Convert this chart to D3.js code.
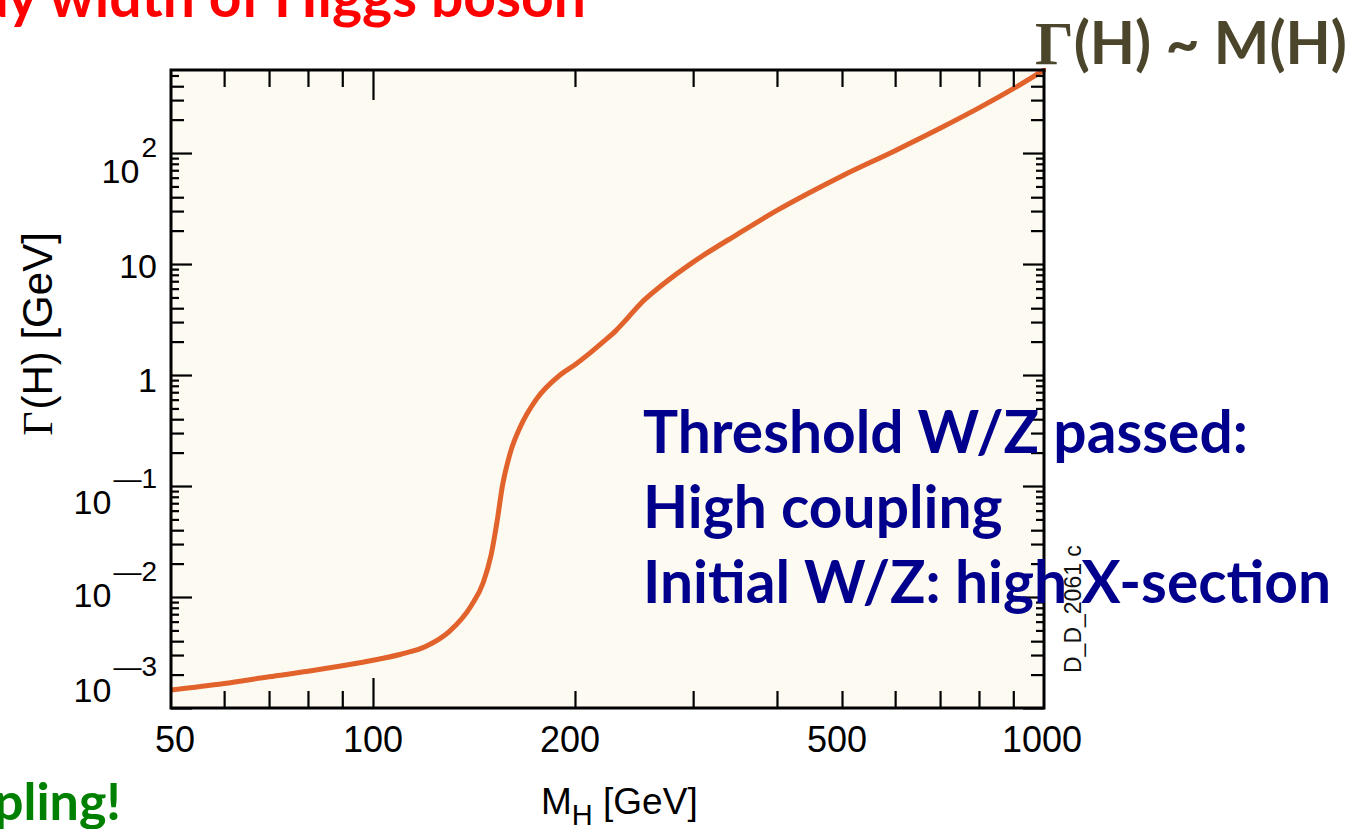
<!DOCTYPE html>
<html>
<head>
<meta charset="utf-8">
<script src="https://cdn.jsdelivr.net/npm/d3@7"></script>
<style>
  html, body { margin: 0; padding: 0; background: #ffffff; }
  svg { display: block; }
</style>
</head>
<body>
<svg id="chart" width="1360" height="829"></svg>
<script>
// Total decay width of the Standard Model Higgs boson versus its mass
const massGeV = [50, 60, 70, 80, 90, 100, 110, 120, 130, 140, 146, 150, 153, 156, 160,
                 166, 175, 190, 200, 210, 220, 230, 240, 250, 270, 300, 350, 400, 450,
                 500, 600, 700, 800, 900, 1000];
const widthGeV = [0.00145, 0.00166, 0.00191, 0.00214, 0.0024, 0.00269, 0.00305, 0.0036,
                  0.0049, 0.0083, 0.0135, 0.024, 0.047, 0.102, 0.195, 0.347, 0.60, 1.0,
                  1.24, 1.56, 1.98, 2.5, 3.3, 4.35, 6.5, 10.4, 18.7, 30.4, 44.8, 62.2,
                  105, 167, 255, 380, 560];

const xTickValues = [50, 100, 200, 500, 1000];
const xTickLabels = ["50", "100", "200", "500", "1000"];
const xMinorTicks = [60, 70, 80, 90, 200, 300, 400, 500, 600, 700, 800, 900];
const xLongTicks = [100];

const yDecades = [1e-3, 1e-2, 1e-1, 1, 10, 100];
const yLabelBase = ["10", "10", "10", "1", "10", "10"];
const yLabelSup = ["\u20143", "\u20142", "\u20141", "", "", "2"];

const xTitle = ["M", "H", " [GeV]"];
const yTitle = ["\u0393", "(H) [GeV]"];
const slideTitle = "Decay width of Higgs boson";
const scalingNote = ["\u0393", "(H) ~ M(H)"];
const noteLines = ["Threshold W/Z passed:", "High coupling", "Initial W/Z: high X-section"];
const footNote = "coupling!";
const plotId = "D_D_2061 c";

const svg = d3.select("#chart");
const L = 171, R = 1044, T = 70, B = 708;

const x = d3.scaleLog().domain([50, 1000]).range([L, R]);
const y = d3.scaleLog().domain([1e-3, 560]).range([B, T]);

// plot area
svg.append("rect").attr("x", L).attr("y", T).attr("width", R - L).attr("height", B - T)
  .attr("fill", "#fdfaf2");

svg.append("clipPath").attr("id", "plotClip")
  .append("rect").attr("x", L).attr("y", T - 2).attr("width", R - L + 2).attr("height", B - T + 2);

const line = d3.line().x((d, i) => x(massGeV[i])).y((d, i) => y(widthGeV[i])).curve(d3.curveMonotoneX);
svg.append("path").datum(massGeV).attr("d", line)
  .attr("fill", "none").attr("stroke", "#e2622c").attr("stroke-width", 5)
  .attr("stroke-linecap", "round").attr("clip-path", "url(#plotClip)");

// axis ticks drawn inward on all four sides
function styleAxis(g) {
  g.select(".domain").remove();
  g.selectAll(".tick line").attr("stroke", "#000").attr("stroke-width", 2.2);
  g.selectAll(".tick text").remove();
}
const xShort = xMinorTicks.filter(v => !xLongTicks.includes(v));
svg.append("g").attr("transform", `translate(0,${B})`)
  .call(d3.axisBottom(x).tickValues(xShort).tickSizeInner(-17).tickSizeOuter(0)).call(styleAxis);
svg.append("g").attr("transform", `translate(0,${B})`)
  .call(d3.axisBottom(x).tickValues(xLongTicks).tickSizeInner(-30).tickSizeOuter(0)).call(styleAxis);
svg.append("g").attr("transform", `translate(0,${T})`)
  .call(d3.axisTop(x).tickValues(xShort).tickSizeInner(-17).tickSizeOuter(0)).call(styleAxis);
svg.append("g").attr("transform", `translate(0,${T})`)
  .call(d3.axisTop(x).tickValues(xLongTicks).tickSizeInner(-30).tickSizeOuter(0)).call(styleAxis);

const yMinorA = [], yMinorB = [];
yDecades.forEach(d => {
  for (let k = 2; k <= 9; k++) {
    const v = d * k;
    if (v > 560) continue;
    (k <= 4 ? yMinorA : yMinorB).push(v);
  }
});
[[yDecades, 21], [yMinorA, 13], [yMinorB, 8]].forEach(([vals, len]) => {
  svg.append("g").attr("transform", `translate(${L},0)`)
    .call(d3.axisLeft(y).tickValues(vals).tickSizeInner(-len).tickSizeOuter(0)).call(styleAxis);
  svg.append("g").attr("transform", `translate(${R},0)`)
    .call(d3.axisRight(y).tickValues(vals).tickSizeInner(-len).tickSizeOuter(0)).call(styleAxis);
});

// frame
svg.append("rect").attr("x", L).attr("y", T).attr("width", R - L).attr("height", B - T)
  .attr("fill", "none").attr("stroke", "#000").attr("stroke-width", 3);

// x tick labels
const labelFont = "'Liberation Sans', Arial, Helvetica, sans-serif";
svg.append("g").selectAll("text").data(xTickValues).join("text")
  .attr("x", d => x(d) + (d === 50 ? 4 : d === 1000 ? -2 : d === 100 ? 0 : -5))
  .attr("y", 752).attr("text-anchor", "middle")
  .attr("font-family", labelFont).attr("font-size", 36).attr("fill", "#000")
  .text((d, i) => xTickLabels[i]);

// y tick labels, exponents raised after the base
const yLabelShift = [-6, 10, 28, 17, 14, 30];
const yLab = svg.append("g").selectAll("text").data(yDecades).join("text")
  .attr("x", 157).attr("y", (d, i) => y(d) + yLabelShift[i]).attr("text-anchor", "end")
  .attr("font-family", labelFont).attr("font-size", 34).attr("fill", "#000");
yLab.append("tspan").text((d, i) => yLabelBase[i]);
yLab.append("tspan").attr("font-size", 28).attr("dy", (d, i) => yLabelSup[i] ? -26 : 0)
  .attr("dx", 2).text((d, i) => yLabelSup[i]);

// axis titles
const xt = svg.append("text").attr("x", 541).attr("y", 814)
  .attr("font-family", labelFont).attr("font-size", 37).attr("fill", "#000");
xt.append("tspan").text(xTitle[0]);
xt.append("tspan").attr("font-size", 29).attr("dy", 11).text(xTitle[1]);
xt.append("tspan").attr("dy", -11).text(xTitle[2]);

const yt = svg.append("text").attr("transform", "translate(52,334) rotate(-90)")
  .attr("text-anchor", "middle").attr("font-family", labelFont).attr("font-size", 42)
  .attr("fill", "#000");
yt.append("tspan").attr("font-family", "'Liberation Serif', 'Times New Roman', serif").text(yTitle[0]);
yt.append("tspan").attr("dx", 2).text(yTitle[1]);

// plot identifier
svg.append("text").attr("transform", "translate(1081,673) rotate(-90)")
  .attr("font-family", labelFont).attr("font-size", 23).attr("fill", "#111").text(plotId);

// slide annotations
const slideFont = "Lato, Carlito, Calibri, 'Open Sans', sans-serif";
svg.append("text").attr("x", 586).attr("y", 17).attr("text-anchor", "end")
  .attr("font-family", slideFont).attr("font-weight", 700).attr("font-size", 57)
  .attr("fill", "#ff0000").text(slideTitle);

svg.append("text").attr("x", 121).attr("y", 820).attr("text-anchor", "end")
  .attr("font-family", slideFont).attr("font-weight", 700).attr("font-size", 52)
  .attr("fill", "#008000").text(footNote);

const sn = svg.append("text").attr("x", 1035).attr("y", 64)
  .attr("font-family", slideFont).attr("font-weight", 700).attr("font-size", 58)
  .attr("fill", "#4b452c");
sn.append("tspan").attr("font-family", "'Liberation Serif', 'Times New Roman', serif")
  .attr("font-size", 60).text(scalingNote[0]);
sn.append("tspan").text(scalingNote[1]);
{
  const w = sn.node().getComputedTextLength();
  const s = 312 / w;
  sn.attr("font-size", 58 * s);
  sn.select("tspan").attr("font-size", 60 * s);
}

const notes = svg.append("g").selectAll("text").data(noteLines).join("text")
  .attr("x", 643).attr("y", (d, i) => 453 + i * 75)
  .attr("font-family", slideFont).attr("font-weight", 700).attr("font-size", 56)
  .attr("fill", "#00008c").text(d => d);
{
  const w = notes.nodes()[0].getComputedTextLength();
  notes.attr("font-size", 56 * 605 / w);
}
</script>
</body>
</html>
